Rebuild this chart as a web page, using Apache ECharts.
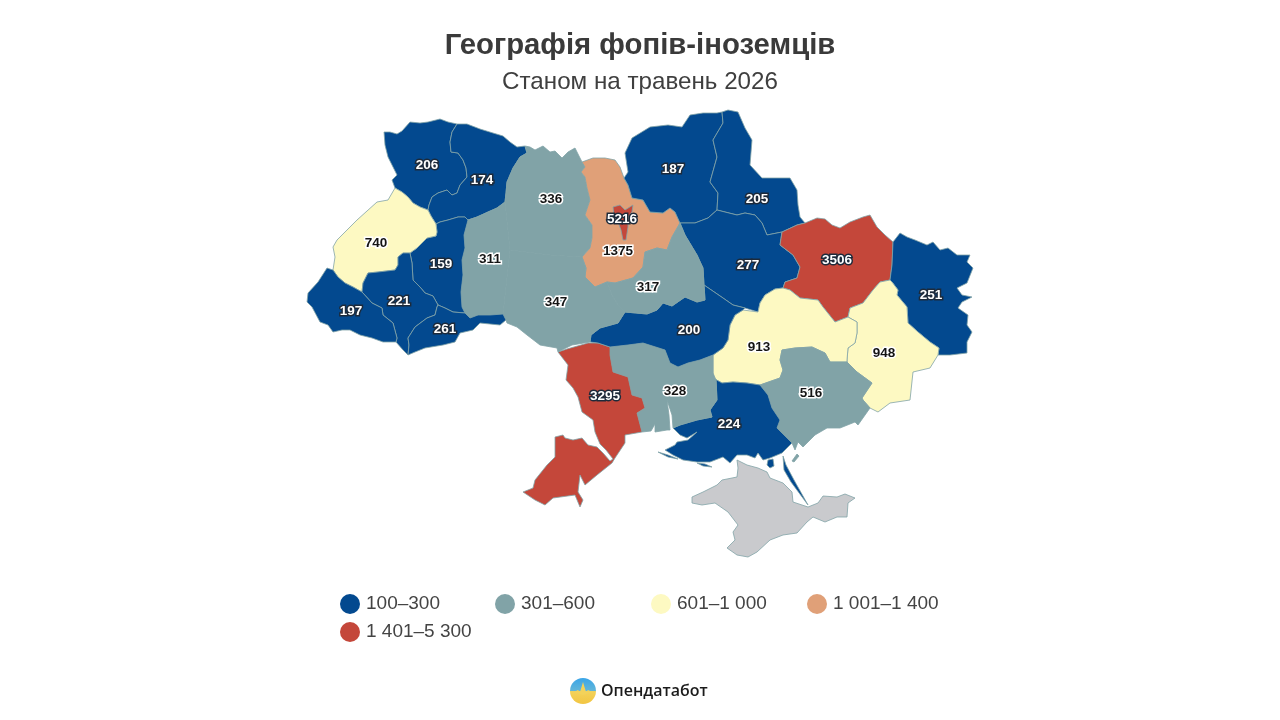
<!DOCTYPE html>
<html>
<head>
<meta charset="utf-8">
<style>html,body{margin:0;padding:0;background:#fff}#c{width:1280px;height:720px}</style>
<script src="https://cdn.jsdelivr.net/npm/echarts@6/dist/echarts.min.js"></script>
</head>
<body>
<div id="c"></div>
<script>
const titleText = 'Географія фопів-іноземців';
const subtitleText = 'Станом на травень 2026';
const brandText = 'Опендатабот';

const classLabels = ['100–300', '301–600', '601–1 000', '1 001–1 400', '1 401–5 300'];
const classMin = [100, 301, 601, 1001, 1401];
const classMax = [300, 600, 1000, 1400, 5300];
const classColors = ['#03498f', '#81a3a7', '#fdf9c2', '#e0a078', '#c4473a'];

const regionNames = ['Волинська','Рівненська','Житомирська','Київська','Київ','Чернігівська','Сумська','Полтавська','Харківська','Луганська','Донецька','Дніпропетровська','Запорізька','Херсонська','Миколаївська','Одеська','Кіровоградська','Черкаська','Вінницька','Хмельницька','Тернопільська','Львівська','Івано-Франківська','Закарпатська','Чернівецька'];
const regionValues = [206,174,336,1375,5216,187,205,277,3506,251,948,913,516,224,328,3295,200,317,347,311,159,740,221,197,261];

// Region outlines (map geometry, in a flat projected space) and label anchors
const labelAnchors = {
'Волинська':[427,165],'Рівненська':[482,180],'Житомирська':[551,199],'Київська':[618,251],'Київ':[622,219],'Чернігівська':[673,169],'Сумська':[757,199],'Полтавська':[748,265],'Харківська':[837,260],'Луганська':[931,295],'Донецька':[884,353],'Дніпропетровська':[759,347],'Запорізька':[811,393],'Херсонська':[729,424],'Миколаївська':[675,391],'Одеська':[605,396],'Кіровоградська':[689,330],'Черкаська':[648,287],'Вінницька':[556,302],'Хмельницька':[490,259],'Тернопільська':[441,264],'Львівська':[376,243],'Івано-Франківська':[399,301],'Закарпатська':[351,311],'Чернівецька':[445,329]};

const outlines = {
'Волинська':[[[384,132],[390,132],[397,134],[402,131],[410,122],[420,123],[428,122],[440,119],[448,122],[457,124],[452,132],[450,142],[451,152],[458,153],[463,160],[466,168],[467,177],[460,185],[457,193],[452,195],[447,190],[438,193],[432,197],[429,205],[428,210],[420,207],[413,203],[408,197],[402,192],[395,188],[392,180],[397,175],[393,167],[388,157],[385,145]]],
'Рівненська':[[[457,124],[467,124],[480,129],[493,133],[503,136],[510,142],[517,147],[525,146],[527,153],[520,157],[513,168],[507,182],[506,193],[505,202],[497,208],[488,212],[477,217],[468,220],[465,217],[458,217],[448,220],[440,222],[436,224],[431,216],[428,210],[429,205],[432,197],[438,193],[447,190],[452,195],[457,193],[460,185],[467,177],[466,168],[463,160],[458,153],[451,152],[450,142],[452,132]]],
'Житомирська':[[[527,153],[525,146],[530,147],[535,150],[543,146],[550,152],[555,151],[562,158],[568,152],[575,148],[582,162],[585,167],[581,172],[585,177],[587,188],[590,200],[585,215],[592,225],[592,238],[590,248],[582,257],[550,255],[510,250],[505,202],[506,193],[507,182],[513,168],[520,157]]],
'Київська':[[[582,162],[593,158],[605,158],[615,160],[620,167],[624,178],[628,185],[632,198],[643,200],[650,212],[663,213],[670,208],[675,212],[680,223],[672,237],[667,250],[657,248],[645,252],[643,267],[633,278],[615,283],[607,282],[595,287],[585,277],[586,268],[582,257],[590,248],[592,238],[592,225],[585,215],[590,200],[587,188],[585,177],[581,172],[585,167]]],
'Київ':[[[613,207],[620,205],[625,210],[633,205],[632,212],[628,217],[628,227],[626,240],[623,240],[621,230],[618,222],[614,215]]],
'Чернігівська':[[[624,178],[628,172],[625,153],[632,138],[650,127],[668,125],[682,127],[690,115],[703,113],[717,113],[722,112],[723,123],[713,140],[717,157],[710,182],[718,193],[717,210],[708,218],[695,223],[680,223],[675,212],[670,208],[663,213],[650,212],[643,200],[632,198],[628,185]]],
'Сумська':[[[722,112],[728,110],[738,112],[745,128],[752,140],[750,165],[762,178],[790,178],[797,190],[798,205],[800,217],[805,223],[797,225],[782,232],[767,235],[762,223],[755,215],[745,213],[737,215],[717,210],[718,193],[710,182],[717,157],[713,140],[723,123]]],
'Полтавська':[[[680,223],[695,223],[708,218],[717,210],[737,215],[745,213],[755,215],[762,223],[767,235],[782,232],[780,245],[793,255],[800,267],[797,278],[785,282],[783,288],[775,289],[765,295],[760,303],[758,312],[745,308],[733,305],[723,298],[704,285],[703,268],[697,255],[685,235]]],
'Харківська':[[[782,232],[797,225],[805,223],[817,218],[825,219],[832,225],[840,228],[850,222],[863,217],[870,215],[877,227],[885,235],[893,242],[892,265],[890,280],[880,282],[873,290],[863,303],[850,308],[848,317],[835,322],[823,307],[818,300],[800,298],[790,290],[783,288],[785,282],[797,278],[800,267],[793,255],[780,245]]],
'Луганська':[[[893,242],[900,233],[907,237],[915,240],[927,245],[933,242],[940,250],[948,248],[957,255],[970,255],[967,262],[973,268],[967,283],[957,288],[962,295],[972,297],[962,302],[958,308],[968,315],[967,325],[972,332],[967,342],[967,353],[950,355],[938,355],[939,348],[930,342],[918,332],[908,323],[907,307],[897,295],[898,290],[892,282],[890,280],[892,265]]],
'Донецька':[[[848,317],[850,308],[863,303],[873,290],[880,282],[890,280],[892,282],[898,290],[897,295],[907,307],[908,323],[918,332],[930,342],[939,348],[938,355],[930,368],[913,372],[910,400],[890,403],[878,412],[870,408],[863,400],[862,398],[872,383],[857,372],[847,362],[847,360],[848,348],[855,343],[857,333],[857,322]]],
'Дніпропетровська':[[[735,315],[743,310],[758,312],[760,303],[765,295],[775,289],[783,288],[790,290],[800,298],[818,300],[823,307],[835,322],[848,317],[857,322],[857,333],[855,343],[848,348],[847,360],[847,362],[830,362],[825,353],[812,347],[795,348],[782,350],[780,360],[783,370],[780,378],[760,385],[747,383],[733,382],[722,383],[713,378],[713,373],[713,355],[723,348],[728,340],[730,325]]],
'Запорізька':[[[760,385],[780,378],[783,370],[780,360],[782,350],[795,348],[812,347],[825,353],[830,362],[847,362],[857,372],[872,383],[862,398],[863,400],[870,408],[858,425],[855,422],[840,428],[827,428],[815,435],[803,447],[798,442],[795,450],[792,443],[787,438],[777,428],[780,420],[772,408],[768,395]],[[792,461],[797,454],[799,456],[794,462]]],
'Херсонська':[[[760,385],[768,395],[772,408],[780,420],[777,428],[787,438],[792,443],[782,453],[770,458],[763,460],[758,453],[755,458],[747,455],[737,455],[730,463],[723,457],[710,462],[697,462],[683,460],[673,455],[665,450],[675,445],[677,442],[688,440],[697,432],[687,438],[680,435],[673,428],[680,425],[697,420],[712,417],[710,410],[717,400],[716,380],[713,378],[722,383],[733,382],[747,383]],[[768,460],[773,459],[774,466],[770,468],[767,465]],[[783,456],[786,465],[794,480],[808,505],[807,505],[791,482],[784,470]],[[658,452],[668,455],[678,459],[668,457]],[[697,463],[705,464],[712,467],[703,466]]],
'Миколаївська':[[[610,347],[628,345],[643,343],[665,350],[670,363],[678,367],[688,363],[700,360],[713,355],[713,373],[716,380],[717,400],[710,410],[712,417],[697,420],[680,425],[673,428],[672,415],[667,400],[669,415],[670,430],[667,430],[655,432],[655,424],[651,431],[642,432],[637,413],[645,408],[642,398],[632,395],[628,377],[613,372],[610,355]]],
'Одеська':[[[558,352],[567,349],[588,343],[598,343],[610,347],[610,355],[613,372],[628,377],[632,395],[642,398],[645,408],[637,413],[642,432],[625,435],[625,443],[615,458],[612,463],[597,475],[585,485],[580,475],[578,492],[583,500],[580,507],[575,495],[553,498],[545,505],[535,500],[523,492],[533,488],[535,480],[547,465],[555,457],[555,437],[563,435],[565,438],[573,440],[582,438],[588,445],[597,447],[603,453],[610,461],[613,459],[606,450],[600,444],[595,432],[593,420],[582,412],[578,397],[573,388],[566,380],[568,365]]],
'Кіровоградська':[[[591,335],[600,328],[618,323],[625,312],[647,314],[657,310],[663,303],[672,306],[685,297],[697,302],[705,300],[704,285],[723,298],[733,305],[745,308],[743,310],[735,315],[730,325],[728,340],[723,348],[713,355],[700,360],[688,363],[678,367],[670,363],[665,350],[643,343],[628,345],[610,347],[598,343],[590,342]]],
'Черкаська':[[[607,282],[615,283],[633,278],[643,267],[645,252],[657,248],[667,250],[672,237],[680,223],[685,235],[697,255],[703,268],[704,285],[705,300],[697,302],[685,297],[672,306],[663,303],[657,310],[647,314],[625,312],[618,305],[612,295]]],
'Вінницька':[[[510,250],[550,255],[582,257],[586,268],[585,277],[595,287],[607,282],[612,295],[618,305],[625,312],[618,323],[600,328],[591,335],[590,342],[572,345],[558,352],[557,348],[540,345],[527,335],[517,327],[507,323],[506,320],[503,314]]],
'Хмельницька':[[[505,202],[510,250],[503,314],[490,315],[478,315],[470,318],[465,313],[462,307],[461,292],[463,275],[462,260],[465,248],[464,235],[468,220],[477,217],[488,212],[497,208]]],
'Тернопільська':[[[436,224],[440,222],[448,220],[458,217],[465,217],[468,220],[464,235],[465,248],[462,260],[463,275],[461,292],[462,307],[465,313],[453,312],[445,308],[438,305],[433,296],[425,293],[420,287],[413,280],[412,263],[410,253],[417,248],[427,238],[436,236],[437,232]]],
'Львівська':[[[395,188],[402,192],[408,197],[413,203],[420,207],[428,210],[431,216],[436,224],[437,232],[436,236],[427,238],[417,248],[410,253],[403,253],[398,257],[398,265],[395,270],[378,272],[368,273],[363,283],[362,292],[353,287],[345,283],[338,277],[333,270],[335,257],[333,247],[337,240],[357,220],[377,202],[388,200]]],
'Івано-Франківська':[[[410,253],[412,263],[413,280],[420,287],[425,293],[433,296],[438,305],[437,307],[435,315],[427,318],[415,327],[408,338],[409,345],[408,355],[403,350],[396,342],[397,338],[393,323],[383,315],[382,308],[372,303],[362,292],[363,283],[368,273],[378,272],[395,270],[398,265],[398,257],[403,253]]],
'Закарпатська':[[[362,292],[372,303],[382,308],[383,315],[393,323],[397,338],[396,342],[383,342],[372,338],[360,335],[350,330],[342,330],[333,332],[328,325],[320,322],[312,307],[307,302],[308,293],[318,282],[327,268],[333,270],[338,277],[345,283],[353,287]]],
'Чернівецька':[[[438,305],[445,308],[453,312],[465,313],[470,318],[478,315],[490,315],[503,314],[506,320],[500,325],[480,323],[473,330],[460,333],[455,342],[443,345],[425,348],[415,352],[408,355],[409,345],[408,338],[415,327],[427,318],[435,315],[437,307]]],
'Крим':[[[737,460],[747,465],[758,468],[767,472],[770,478],[783,483],[792,492],[793,502],[808,507],[818,503],[823,496],[837,497],[845,494],[855,498],[848,503],[847,517],[837,517],[825,522],[813,517],[807,522],[797,533],[783,535],[770,540],[757,552],[748,557],[737,555],[727,548],[735,540],[733,532],[738,525],[728,512],[715,503],[702,505],[692,503],[692,497],[703,492],[717,485],[722,480],[737,477],[738,468]]]
};

const flip = p => [p[0], -p[1]];
const features = Object.keys(outlines).map(name => ({
  type: 'Feature',
  properties: { name: name, cp: labelAnchors[name] ? flip(labelAnchors[name]) : undefined },
  geometry: { type: 'MultiPolygon', coordinates: outlines[name].map(r => [r.map(flip)]) }
}));
echarts.registerMap('ua', { type: 'FeatureCollection', features: features });

const classOf = v => classMin.findIndex((m, i) => v >= m && v <= classMax[i]);
const darkText = [false, true, true, true, false];

const mapData = regionNames.map((name, i) => {
  const v = regionValues[i];
  const dark = darkText[classOf(v)];
  return {
    name: name,
    value: v,
    label: {
      color: dark ? '#141414' : '#ffffff',
      textBorderColor: dark ? '#ffffff' : '#1d2a3a'
    }
  };
});

const legendPos = [[340, 594], [495, 594], [651, 594], [807, 594], [340, 622]];

const chart = echarts.init(document.getElementById('c'), null, { renderer: 'canvas' });
chart.setOption({
  animation: false,
  backgroundColor: '#ffffff',
  title: {
    text: titleText,
    subtext: subtitleText,
    left: 'center',
    top: 26,
    itemGap: 10,
    textStyle: { fontFamily: 'Liberation Sans', fontWeight: 'bold', fontSize: 29.3, color: '#3a3a3a' },
    subtextStyle: { fontFamily: 'Liberation Sans', fontSize: 24.2, color: '#3f3f3f' }
  },
  grid: { left: 0, top: 0, width: 10, height: 10, show: false },
  xAxis: { show: false },
  yAxis: { show: false },
  legend: classLabels.map((label, i) => ({
    data: [label],
    left: legendPos[i][0],
    top: legendPos[i][1],
    icon: 'circle',
    itemWidth: 20,
    itemHeight: 20,
    selectedMode: false,
    padding: 0,
    textStyle: { fontFamily: 'Liberation Sans', fontSize: 19, color: '#444444', padding: [0, 0, 0, 1] }
  })),
  visualMap: {
    show: false,
    type: 'piecewise',
    seriesIndex: 0,
    pieces: classLabels.map((label, i) => ({ min: classMin[i], max: classMax[i], color: classColors[i] }))
  },
  series: [{
    type: 'map',
    map: 'ua',
    roam: false,
    silent: true,
    showLegendSymbol: false,
    aspectScale: 1,
    left: 0, top: 0, right: 0, bottom: 0,
    boundingCoords: [[0, 0], [1280, -720]],
    itemStyle: { areaColor: '#c9cacd', borderColor: '#81a3a7', borderWidth: 0.8 },
    label: {
      show: true,
      fontFamily: 'Liberation Sans',
      fontWeight: 'bold',
      fontSize: 13.5,
      textBorderWidth: 3,
      formatter: p => (isNaN(p.value) ? '' : String(p.value))
    },
    data: mapData
  }].concat(classLabels.map((label, i) => ({
    type: 'scatter',
    name: label,
    data: [],
    itemStyle: { color: classColors[i], opacity: 1 }
  }))),
  graphic: [
    {
      type: 'circle', silent: true,
      shape: { cx: 583, cy: 691, r: 13 },
      style: { fill: new echarts.graphic.LinearGradient(0, 0, 0, 1, [
        { offset: 0, color: '#3aa5e8' }, { offset: 0.5, color: '#63b6d8' },
        { offset: 0.52, color: '#f3d25a' }, { offset: 1, color: '#f2c542' }]) }
    },
    {
      type: 'polygon', silent: true,
      shape: { points: [[574, 692], [578, 690], [580, 692], [583, 682], [586, 692], [588, 690], [592, 692], [583, 695]] },
      style: { fill: '#f3d25a' }
    },
    {
      type: 'text', silent: true,
      style: { x: 601, y: 691, text: brandText, verticalAlign: 'middle', fill: '#1b1b1b',
        font: '600 16px "Open Sans"' }
    }
  ]
});
</script>
</body>
</html>
